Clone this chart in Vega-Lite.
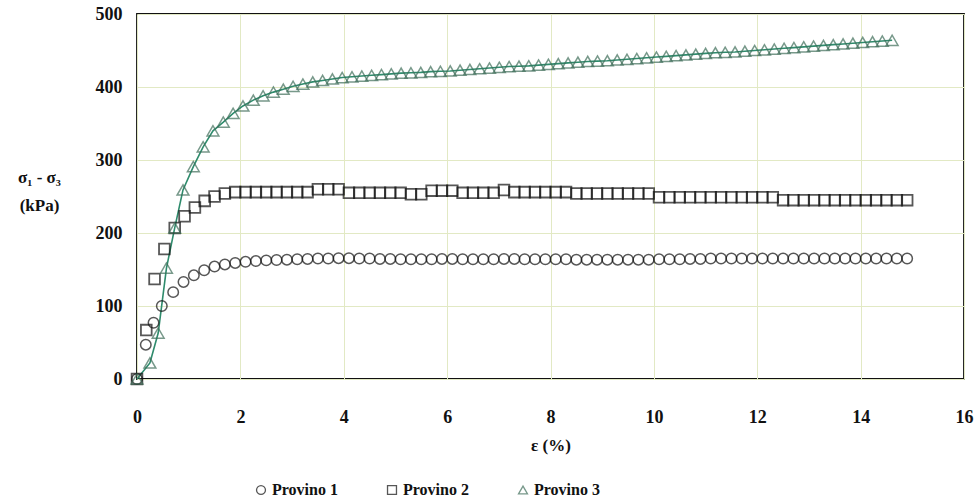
{
  "$schema": "https://vega.github.io/schema/vega-lite/v6.json",
  "width": 827,
  "height": 365,
  "autosize": {"type": "none"},
  "padding": {"left": 137, "top": 14, "right": 16, "bottom": 122},
  "background": "white",
  "datasets": {
    "p1": [
      {"e":0,"s":0},{"e":0.17,"s":47},{"e":0.32,"s":77},{"e":0.48,"s":100},{"e":0.7,"s":119},{"e":0.9,"s":133},{"e":1.1,"s":142},{"e":1.3,"s":149},{"e":1.5,"s":154},{"e":1.7,"s":157},{"e":1.9,"s":159},{"e":2.1,"s":160.5},{"e":2.3,"s":161.5},{"e":2.5,"s":162.5},{"e":2.7,"s":163},{"e":2.9,"s":163.5},{"e":3.1,"s":164},{"e":3.3,"s":164.5},{"e":3.5,"s":165},{"e":3.7,"s":165},{"e":3.9,"s":165.5},{"e":4.1,"s":165.5},{"e":4.3,"s":165},{"e":4.5,"s":165},{"e":4.7,"s":164.5},{"e":4.9,"s":164.5},{"e":5.1,"s":164},{"e":5.3,"s":164},{"e":5.5,"s":164},{"e":5.7,"s":164},{"e":5.9,"s":164.5},{"e":6.1,"s":164.5},{"e":6.3,"s":164},{"e":6.5,"s":164},{"e":6.7,"s":164},{"e":6.9,"s":164},{"e":7.1,"s":164.5},{"e":7.3,"s":164.5},{"e":7.5,"s":164},{"e":7.7,"s":164},{"e":7.9,"s":164},{"e":8.1,"s":164},{"e":8.3,"s":164},{"e":8.5,"s":163.5},{"e":8.7,"s":163.5},{"e":8.9,"s":163.5},{"e":9.1,"s":163.5},{"e":9.3,"s":163.5},{"e":9.5,"s":163.5},{"e":9.7,"s":163.5},{"e":9.9,"s":163.5},{"e":10.1,"s":164},{"e":10.3,"s":164},{"e":10.5,"s":164},{"e":10.7,"s":164.5},{"e":10.9,"s":164.5},{"e":11.1,"s":165},{"e":11.3,"s":165},{"e":11.5,"s":165},{"e":11.7,"s":165},{"e":11.9,"s":165},{"e":12.1,"s":165},{"e":12.3,"s":165},{"e":12.5,"s":165},{"e":12.7,"s":165},{"e":12.9,"s":165},{"e":13.1,"s":165},{"e":13.3,"s":165},{"e":13.5,"s":165},{"e":13.7,"s":165},{"e":13.9,"s":165},{"e":14.1,"s":165},{"e":14.3,"s":165},{"e":14.5,"s":165},{"e":14.7,"s":165},{"e":14.9,"s":165}
    ],
    "p2": [
      {"e":0,"s":0},{"e":0.18,"s":67},{"e":0.34,"s":137},{"e":0.53,"s":178},{"e":0.73,"s":207},{"e":0.92,"s":223},{"e":1.12,"s":235},{"e":1.31,"s":244},{"e":1.5,"s":250},{"e":1.7,"s":254},{"e":1.9,"s":256},{"e":2.1,"s":256},{"e":2.3,"s":256},{"e":2.5,"s":256},{"e":2.7,"s":256},{"e":2.9,"s":256},{"e":3.1,"s":256},{"e":3.3,"s":256},{"e":3.5,"s":260},{"e":3.7,"s":260},{"e":3.9,"s":260},{"e":4.1,"s":255},{"e":4.3,"s":255},{"e":4.5,"s":255},{"e":4.7,"s":255},{"e":4.9,"s":255},{"e":5.1,"s":255},{"e":5.3,"s":253},{"e":5.5,"s":253},{"e":5.7,"s":258},{"e":5.9,"s":258},{"e":6.1,"s":258},{"e":6.3,"s":255},{"e":6.5,"s":255},{"e":6.7,"s":255},{"e":6.9,"s":255},{"e":7.1,"s":259},{"e":7.3,"s":256},{"e":7.5,"s":256},{"e":7.7,"s":256},{"e":7.9,"s":256},{"e":8.1,"s":256},{"e":8.3,"s":256},{"e":8.5,"s":254},{"e":8.7,"s":254},{"e":8.9,"s":254},{"e":9.1,"s":254},{"e":9.3,"s":254},{"e":9.5,"s":254},{"e":9.7,"s":254},{"e":9.9,"s":254},{"e":10.1,"s":249},{"e":10.3,"s":249},{"e":10.5,"s":249},{"e":10.7,"s":249},{"e":10.9,"s":249},{"e":11.1,"s":249},{"e":11.3,"s":249},{"e":11.5,"s":249},{"e":11.7,"s":249},{"e":11.9,"s":249},{"e":12.1,"s":249},{"e":12.3,"s":249},{"e":12.5,"s":245},{"e":12.7,"s":245},{"e":12.9,"s":245},{"e":13.1,"s":245},{"e":13.3,"s":245},{"e":13.5,"s":245},{"e":13.7,"s":245},{"e":13.9,"s":245},{"e":14.1,"s":245},{"e":14.3,"s":245},{"e":14.5,"s":245},{"e":14.7,"s":245},{"e":14.9,"s":245}
    ],
    "p3": [
      {"e":0,"s":0},{"e":0.25,"s":22},{"e":0.41,"s":63},{"e":0.57,"s":152},{"e":0.73,"s":207},{"e":0.89,"s":259},{"e":1.09,"s":291},{"e":1.28,"s":318},{"e":1.47,"s":340},{"e":1.67,"s":352},{"e":1.86,"s":364},{"e":2.05,"s":374},{"e":2.25,"s":382},{"e":2.44,"s":388},{"e":2.64,"s":393},{"e":2.83,"s":397},{"e":3.02,"s":401},{"e":3.21,"s":404},{"e":3.4,"s":407},{"e":3.59,"s":409},{"e":3.78,"s":411},{"e":3.97,"s":413},{"e":4.16,"s":414},{"e":4.35,"s":415},{"e":4.54,"s":416},{"e":4.73,"s":417},{"e":4.92,"s":418},{"e":5.11,"s":419},{"e":5.3,"s":419.5},{"e":5.49,"s":420},{"e":5.68,"s":421},{"e":5.87,"s":421.5},{"e":6.06,"s":422},{"e":6.25,"s":423},{"e":6.44,"s":424},{"e":6.63,"s":425},{"e":6.82,"s":426},{"e":7.01,"s":427},{"e":7.2,"s":428},{"e":7.39,"s":428.5},{"e":7.58,"s":429},{"e":7.77,"s":430},{"e":7.96,"s":431},{"e":8.15,"s":432},{"e":8.34,"s":433},{"e":8.53,"s":434},{"e":8.72,"s":435},{"e":8.91,"s":435.5},{"e":9.1,"s":436},{"e":9.29,"s":437},{"e":9.48,"s":438},{"e":9.67,"s":439},{"e":9.86,"s":440},{"e":10.05,"s":441},{"e":10.24,"s":442},{"e":10.43,"s":443},{"e":10.62,"s":444},{"e":10.81,"s":445},{"e":11.0,"s":446},{"e":11.19,"s":447},{"e":11.38,"s":447.5},{"e":11.57,"s":448},{"e":11.76,"s":449},{"e":11.95,"s":450},{"e":12.14,"s":451},{"e":12.33,"s":452},{"e":12.52,"s":453},{"e":12.71,"s":454},{"e":12.9,"s":455},{"e":13.09,"s":456},{"e":13.28,"s":457},{"e":13.47,"s":458},{"e":13.66,"s":459},{"e":13.85,"s":460},{"e":14.04,"s":461},{"e":14.23,"s":462},{"e":14.42,"s":463},{"e":14.61,"s":464}
    ]
  },
  "layer": [
    {
      "data": {"name": "p3"},
      "mark": {"type": "line", "color": "#2e8b6c", "strokeWidth": 1.6},
      "encoding": {
        "x": {"field": "e", "type": "quantitative"},
        "y": {"field": "s", "type": "quantitative"}
      }
    },
    {
      "data": {"name": "p1"},
      "transform": [{"calculate": "'Provino 1'", "as": "p"}],
      "mark": {"type": "point", "filled": false, "strokeWidth": 1.5, "size": 110},
      "encoding": {
        "x": {"field": "e", "type": "quantitative"},
        "y": {"field": "s", "type": "quantitative"},
        "color": {"field": "p", "type": "nominal"},
        "shape": {"field": "p", "type": "nominal"}
      }
    },
    {
      "data": {"name": "p2"},
      "transform": [{"calculate": "'Provino 2'", "as": "p"}],
      "mark": {"type": "point", "filled": false, "strokeWidth": 1.8, "size": 115},
      "encoding": {
        "x": {"field": "e", "type": "quantitative"},
        "y": {"field": "s", "type": "quantitative"},
        "color": {"field": "p", "type": "nominal"},
        "shape": {"field": "p", "type": "nominal"}
      }
    },
    {
      "data": {"name": "p3"},
      "transform": [{"calculate": "'Provino 3'", "as": "p"}],
      "mark": {"type": "point", "filled": false, "strokeWidth": 1.5, "size": 140},
      "encoding": {
        "x": {
          "field": "e", "type": "quantitative",
          "scale": {"domain": [0, 16], "nice": false, "zero": false},
          "axis": {"title": "ε (%)", "values": [0,2,4,6,8,10,12,14,16], "titlePadding": 11, "labelFlush": false}
        },
        "y": {
          "field": "s", "type": "quantitative",
          "scale": {"domain": [0, 500], "nice": false},
          "axis": {"title": ["σ₁ - σ₃", "(kPa)"], "values": [0,100,200,300,400,500],
                   "titleAngle": 0, "titleAlign": "center", "titleBaseline": "top",
                   "titleX": -98, "titleY": 155, "titleLineHeight": 28, "labelFlush": false}
        },
        "color": {
          "field": "p", "type": "nominal",
          "scale": {"domain": ["Provino 1", "Provino 2", "Provino 3"], "range": ["#111111", "#111111", "#3f6e5a"]},
          "legend": {"title": null, "orient": "none", "direction": "horizontal", "legendX": 116, "legendY": 468,
                     "columns": 3, "columnPadding": 46, "symbolSize": 80, "symbolStrokeWidth": 1.3,
                     "labelFont": "Liberation Serif", "labelFontWeight": "bold", "labelFontSize": 16,
                     "labelColor": "#111111", "symbolOffset": 0, "labelOffset": 3}
        },
        "shape": {
          "field": "p", "type": "nominal",
          "scale": {"domain": ["Provino 1", "Provino 2", "Provino 3"], "range": ["circle", "square", "triangle-up"]}
        }
      }
    }
  ],
  "config": {
    "view": {"stroke": "#111111", "strokeWidth": 1.8},
    "axis": {
      "labelFont": "Liberation Serif", "labelFontWeight": "bold", "labelFontSize": 18, "labelColor": "#111111",
      "titleFont": "Liberation Serif", "titleFontWeight": "bold", "titleFontSize": 17, "titleColor": "#111111",
      "gridColor": "#e2e9c4", "gridWidth": 1, "ticks": false, "tickSize": 0, "domain": false
    },
    "axisX": {"labelPadding": 29},
    "axisY": {"labelPadding": 15}
  }
}
